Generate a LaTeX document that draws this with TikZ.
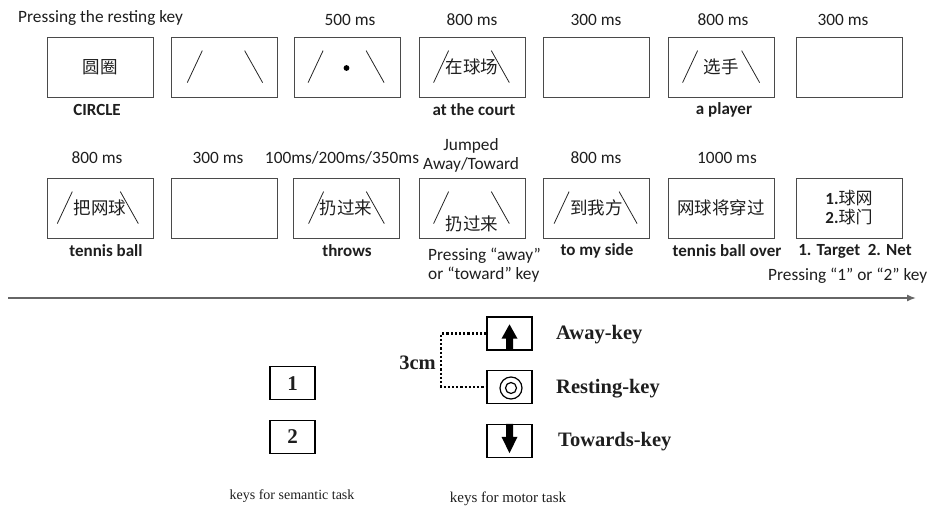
\documentclass[tikz,border=0pt]{standalone}
\usepackage{fontspec}
\usetikzlibrary{calc,arrows.meta}
\newfontfamily\calfont{Carlito}
\newfontfamily\tnrfont{Liberation Serif}
\newfontfamily\cjkfont{Noto Sans CJK SC}
\definecolor{txt}{HTML}{1E1E1E}
\definecolor{frame}{HTML}{4A4A4A}
\newcommand\twoslash[3]{%
  \draw[slashline] ($(#1.north west)+(#2,14)$) -- ($(#1.north west)+(#2-15,46)$);
  \draw[slashline] ($(#1.north west)+(#3,14)$) -- ($(#1.north west)+(#3+18,46)$);}
\begin{document}
\begin{tikzpicture}[x=1pt,y=-1pt,
  screen/.style={draw=frame,line width=0.8pt,minimum width=106pt,minimum height=60pt,inner sep=0pt,
    font=\cjkfont\fontsize{17.5}{20}\selectfont,text=txt},
  slashline/.style={draw=black!85,line width=0.8pt},
  timelbl/.style={font=\calfont\fontsize{17.3}{19}\selectfont,text=txt,inner sep=0pt},
  wordlbl/.style={font=\calfont\bfseries\fontsize{17}{19}\selectfont,text=txt,inner sep=0pt},
  keybox/.style={draw=black,line width=1.3pt,minimum width=45pt,minimum height=33pt,inner sep=0pt},
  keylbl/.style={font=\tnrfont\bfseries\fontsize{20.5}{22}\selectfont,text=txt,inner sep=0pt},
  smalllbl/.style={font=\tnrfont\fontsize{14}{16}\selectfont,text=txt,inner sep=0pt},
  dotline/.style={draw=black,line width=2.2pt,dotted},
  blockarrow/.style={fill=black,draw=none}]
\useasboundingbox (0,0) rectangle (928,508);

% ---------- row 1 ----------
\node[timelbl,anchor=west] (p1) at (18,18) {Pressing the resting key};
\node[timelbl] (m3) at (350,20) {500 ms};
\node[timelbl] (m4) at (472,20) {800 ms};
\node[timelbl] (m5) at (596,20) {300 ms};
\node[timelbl] (m6) at (723,20) {800 ms};
\node[timelbl] (m7) at (843,20) {300 ms};

\node[screen] (a1) at (100,67) {圆圈};
\node[screen] (a2) at (224,67) {};
\node[screen] (a3) at (347.5,67) {};
\node[screen] (a4) at (472,67) {在球场};
\node[screen] (a5) at (596.5,67) {};
\node[screen] (a6) at (721,67) {选手};
\node[screen] (a7) at (849,67) {};
\twoslash{a2}{31.7}{74}
\twoslash{a3}{29}{72}
\twoslash{a4}{30}{72.7}
\twoslash{a6}{30}{74}
\fill[black] (346.5,68) circle (2.9);

\node[wordlbl] (w1) at (97,110) {CIRCLE};
\node[wordlbl] (w4) at (474,110) {at the court};
\node[wordlbl] (w6) at (724,110) {a player};

% ---------- row 2 ----------
\node[timelbl] (n1) at (97,158) {800 ms};
\node[timelbl] (n2) at (218,158) {300 ms};
\node[timelbl] (n3) at (342,158) {100ms/200ms/350ms};
\node[timelbl,align=center] (n4) at (471,155.5) {Jumped\\Away/Toward};
\node[timelbl] (n5) at (596,158) {800 ms};
\node[timelbl] (n6) at (727,158) {1000 ms};

\node[screen] (b1) at (100,208) {把网球};
\node[screen] (b2) at (224,208) {};
\node[screen] (b3) at (346,208) {扔过来};
\node[screen] (b4) at (472,208) {};
\node[screen] (b5) at (596.5,208) {到我方};
\node[screen] (b6) at (721,208) {网球将穿过};
\node[screen,align=center,font=\cjkfont\fontsize{17}{19}\selectfont] (b7) at (849,208)
  {{\calfont\bfseries 1.}球网\\{\calfont\bfseries 2.}球门};
\node[font=\cjkfont\fontsize{17.5}{20}\selectfont,text=txt,inner sep=0pt] (b4t) at (472,224) {扔过来};
\twoslash{b1}{25.7}{73.7}
\twoslash{b3}{31}{73.7}
\twoslash{b4}{30}{72.7}
\twoslash{b5}{26}{76}

\node[wordlbl] (v1) at (106,251) {tennis ball};
\node[wordlbl] (v3) at (347,251) {throws};
\node[timelbl,align=left,anchor=north west] (v4) at (428,248) {Pressing “away”\\or “toward” key};
\node[wordlbl] (v5) at (597,251) {to my side};
\node[wordlbl] (v6) at (727,251) {tennis ball over};
\node[wordlbl] (v7) at (855,251) {1. Target\ \ 2. Net};
\node[timelbl,anchor=west] (v8) at (768,276) {Pressing “1” or “2” key};

% ---------- time axis ----------
\coordinate (ax0) at (8,298);
\coordinate (ax1) at (916,298);
\draw[draw=black!60,line width=1.5pt,-{Latex[length=9pt,width=7pt]}] (ax0) -- (ax1);

% ---------- motor keys ----------
\node[keybox] (up) at (509.5,333.5) {};
\node[keybox] (rest) at (509.5,387) {};
\node[keybox] (down) at (509.5,441) {};
\node[keylbl,anchor=west] (upl) at (556,335) {Away-key};
\node[keylbl,anchor=west] (restl) at (556,389) {Resting-key};
\node[keylbl,anchor=west] (downl) at (558,442) {Towards-key};
\draw[dotline] (up.west) -- ++(-45,0) coordinate (dc) |- (rest.west);
\node[keylbl,anchor=east] (cm) at (436,363) {3cm};

% block arrows
\fill[blockarrow] ($(up.south)+(-3.5,0)$) -- ++(0,-12) -- ++(-4.5,0) -- ($(up.north)+(0,8)$)
  -- ($(up.south)+(8,-12)$) -- ++(-4.5,0) -- ($(up.south)+(3.5,0)$) -- cycle;
\fill[blockarrow] ($(down.north)+(-3.5,0)$) -- ++(0,13) -- ++(-4.5,0) -- ($(down.south)+(0,-5)$)
  -- ($(down.north)+(8,13)$) -- ++(-4.5,0) -- ($(down.north)+(3.5,0)$) -- cycle;
\draw[line width=1.2pt] ($(rest.center)+(1.5,1)$) circle (11);
\draw[line width=1.2pt] ($(rest.center)+(1.5,1)$) circle (5.5);

% ---------- semantic keys ----------
\node[keybox,font=\tnrfont\bfseries\fontsize{21}{24}\selectfont,text=txt] (k1) at (292.5,383.3) {1};
\node[keybox,font=\tnrfont\bfseries\fontsize{21}{24}\selectfont,text=txt] (k2) at (292.5,436.7) {2};

\node[smalllbl] (sem) at (292,496) {keys for semantic task};
\node[smalllbl,font=\tnrfont\fontsize{15}{17}\selectfont] (mot) at (508,499) {keys for motor task};
\end{tikzpicture}
\end{document}
